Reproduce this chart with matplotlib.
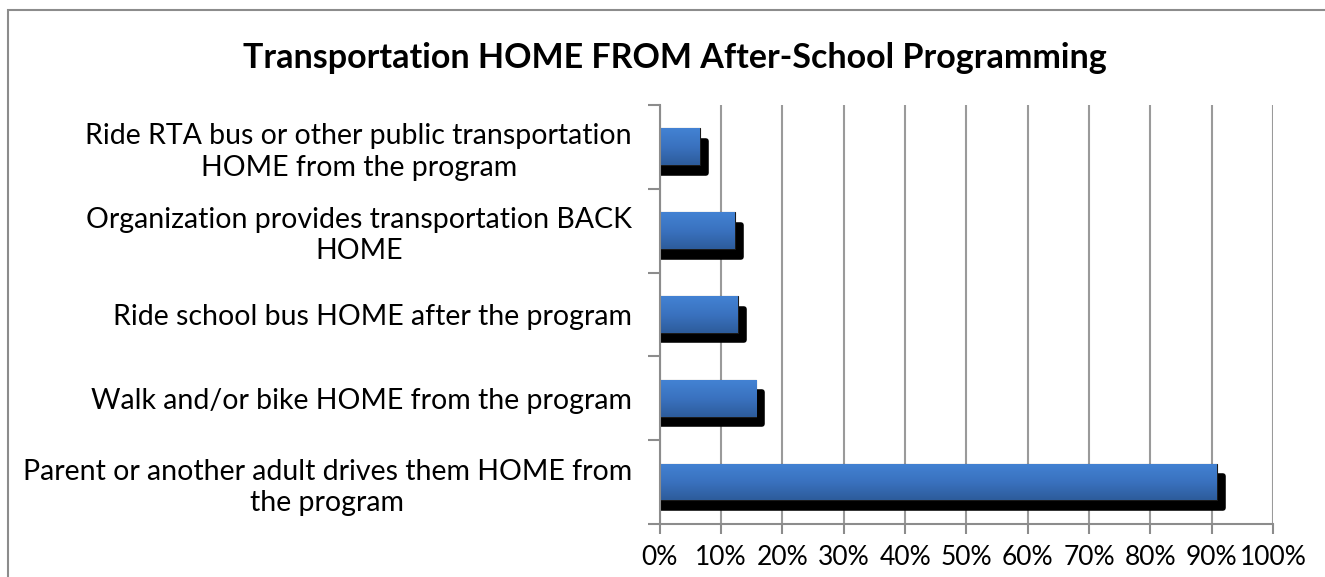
import numpy as np
import matplotlib
matplotlib.use("Agg")
import matplotlib.pyplot as plt
from matplotlib.patches import Rectangle
from matplotlib.colors import LinearSegmentedColormap
from matplotlib.ticker import FuncFormatter

plt.rcParams['font.family'] = ['Lato', 'DejaVu Sans']

# data (bottom to top)
categories = [
    "Parent or another adult drives them HOME from\nthe program",
    "Walk and/or bike HOME from the program",
    "Ride school bus HOME after the program",
    "Organization provides transportation BACK\nHOME",
    "Ride RTA bus or other public transportation\nHOME from the program",
]
values = [90.8, 15.7, 12.7, 12.2, 6.5]
title = "Transportation HOME FROM After-School Programming"

fig = plt.figure(figsize=(13.25, 5.77), dpi=100)
ax = fig.add_axes([0.498, 0.092, 0.4628, 0.726])

# outer chart border (clipped on right/bottom as in the reference)
fig.patches.append(Rectangle((8 / 1325, -0.1), 1.2, 1 - 10 / 577 + 0.1,
                             transform=fig.transFigure, fill=False,
                             edgecolor="#8c8c8c", linewidth=1.5))

y = np.arange(len(categories))
bar_h = 0.44
# shadow offset: ~7 px right, ~10 px down
dx, dy = 1.0, 0.12
ax.barh(y - dy, np.array(values) + dx, height=bar_h - 0.06, color="black",
        edgecolor="black", linewidth=4, joinstyle="round", zorder=2)
bars = ax.barh(y, values, height=bar_h, color="#3a72bf", edgecolor="#1a1a1a",
               linewidth=0.8, zorder=3)

# vertical gradient fill on each bar
cmap = LinearSegmentedColormap.from_list("g", ["#2d5c9b", "#3a72bf", "#4382d3"])
grad = np.linspace(0, 1, 100).reshape(-1, 1)
for b in bars:
    x0, y0 = b.get_x(), b.get_y()
    w, h = b.get_width(), b.get_height()
    im = ax.imshow(grad, cmap=cmap, origin="lower", aspect="auto",
                   extent=[x0, x0 + w, y0, y0 + h], zorder=4)
    im.set_clip_path(b)

ax.set_xlim(0, 100)
ax.set_ylim(-0.5, len(categories) - 0.5)
ax.set_xticks(np.arange(0, 101, 10))
ax.xaxis.set_major_formatter(FuncFormatter(lambda v, p: f"{int(v)}%"))
ax.set_yticks(y)
ax.set_yticklabels(categories, fontsize=20.5, linespacing=1.25)
for t in ax.get_yticklabels():
    t.set_multialignment("center")
ax.yaxis.set_tick_params(pad=20, length=0)
ax.set_yticks(np.arange(-0.5, len(categories), 1), minor=True)
ax.tick_params(axis="y", which="minor", length=9, color="#8c8c8c", width=1.5, direction="out")
ax.tick_params(axis="x", labelsize=19, length=7, color="#8c8c8c", width=1.5, pad=8)

ax.grid(axis="x", color="#9a9a9a", linewidth=1.5, zorder=0)
ax.set_axisbelow(True)
for s in ["top", "right"]:
    ax.spines[s].set_visible(False)
for s in ["left", "bottom"]:
    ax.spines[s].set_color("#8c8c8c")
    ax.spines[s].set_linewidth(1.5)
    ax.spines[s].set_zorder(5)

fig.text(675 / 1325, 1 - 58 / 577, title, ha="center", va="center",
         fontsize=24.5, fontweight="bold")

fig.savefig("out.png", dpi=100)
